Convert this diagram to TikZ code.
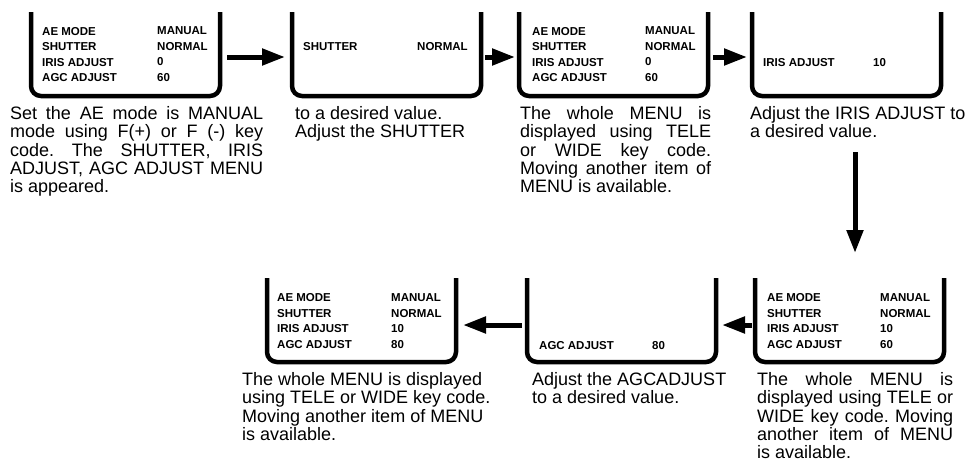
\documentclass[tikz,border=0pt]{standalone}
\usepackage{fontspec}
\setmainfont{Liberation Sans}
\usetikzlibrary{arrows.meta}
\newcommand\jline[2]{\makebox[#1][s]{#2}}
\frenchspacing
\begin{document}
\begin{tikzpicture}[x=1pt,y=-1pt,
  frame/.style={line width=4.5pt, rounded corners=10pt},
  area/.style={inner sep=0pt, outer sep=0pt, minimum width=189pt, minimum height=84pt},
  mtxt/.style={font=\fontsize{11.5}{15.5}\selectfont\bfseries, inner sep=0pt, anchor=north west, align=left},
  mone/.style={font=\fontsize{11.5}{15.5}\selectfont\bfseries, inner sep=0pt, anchor=west},
  captxt/.style={font=\fontsize{18}{18.4}\selectfont\frenchspacing, inner sep=0pt, anchor=north west, align=left},
  arr/.style={line width=5pt, -{Triangle[length=23pt,width=16pt]}}]
\useasboundingbox (0,0) rectangle (971,464);

% box areas
\node[area] (b1) at (125.5,54) {};
\node[area] (b2) at (386.5,54) {};
\node[area] (b3) at (613.5,54) {};
\node[area] (b4) at (846.5,54) {};
\node[area] (b5) at (361.5,320) {};
\node[area] (b6) at (621.5,320) {};
\node[area] (b7) at (849.5,320) {};

\foreach \b in {b1,b2,b3,b4,b5,b6,b7}
  \draw[frame] (\b.north west) -- (\b.south west) -- (\b.south east) -- (\b.north east);

% box contents
\node[mtxt] (b1l) at (42,26.8) {AE MODE\\SHUTTER\\IRIS ADJUST\\AGC ADJUST};
\node[mtxt] (b1v) at (157,26.8) {MANUAL\\NORMAL\\0\\60};
\node[mone] (b2l) at (303,47) {SHUTTER};
\node[mone] (b2v) at (417,47) {NORMAL};
\node[mtxt] (b3l) at (532,26.8) {AE MODE\\SHUTTER\\IRIS ADJUST\\AGC ADJUST};
\node[mtxt] (b3v) at (645,26.8) {MANUAL\\NORMAL\\0\\60};
\node[mone] (b4l) at (763,63) {IRIS ADJUST};
\node[mone] (b4v) at (873,63) {10};
\node[mtxt] (b5l) at (277,293.5) {AE MODE\\SHUTTER\\IRIS ADJUST\\AGC ADJUST};
\node[mtxt] (b5v) at (391,293.5) {MANUAL\\NORMAL\\10\\80};
\node[mone] (b6l) at (539,346) {AGC ADJUST};
\node[mone] (b6v) at (652,346) {80};
\node[mtxt] (b7l) at (767,293.5) {AE MODE\\SHUTTER\\IRIS ADJUST\\AGC ADJUST};
\node[mtxt] (b7v) at (880,293.5) {MANUAL\\NORMAL\\10\\60};

% captions
\node[captxt] (c1) at (10,106) {\jline{253pt}{Set the AE mode is MANUAL}\\
  \jline{253pt}{mode using F(+) or F (-) key}\\
  \jline{253pt}{code. The SHUTTER, IRIS}\\
  \jline{253pt}{ADJUST, AGC ADJUST MENU}\\
  is appeared.};
\node[captxt] (c2) at (295,106) {to a desired value.\\Adjust the SHUTTER};
\node[captxt] (c3) at (520,106) {\jline{191pt}{The whole MENU is}\\
  \jline{191pt}{displayed using TELE}\\
  \jline{191pt}{or WIDE key code.}\\
  \jline{191pt}{Moving another item of}\\
  MENU is available.};
\node[captxt] (c4) at (750,106) {Adjust the IRIS ADJUST to\\a desired value.};
\node[captxt] (c5) at (242,372) {The whole MENU is displayed\\using TELE or WIDE key code.\\Moving another item of MENU\\is available.};
\node[captxt] (c6) at (532,372) {Adjust the AGCADJUST\\to a desired value.};
\node[captxt] (c7) at (757,372) {\jline{196pt}{The whole MENU is}\\
  \jline{196pt}{displayed using TELE or}\\
  \jline{196pt}{WIDE key code. Moving}\\
  \jline{196pt}{another item of MENU}\\
  is available.};

% connectors
\draw[arr, shorten <=7pt, shorten >=7pt] ([yshift=-3pt]b1.east) -- ([yshift=-3pt]b2.west);
\draw[arr, shorten <=4pt, shorten >=4pt] ([yshift=-3pt]b2.east) -- ([yshift=-3pt]b3.west);
\draw[arr, shorten <=5pt, shorten >=5pt] ([yshift=-3pt]b3.east) -- ([yshift=-3pt]b4.west);
\coordinate (dtop) at (855,152);
\coordinate (dbot) at (855,253);
\draw[arr] (dtop) -- (dbot);
\draw[arr, shorten <=3pt, shorten >=6pt] ([yshift=-5pt]b7.west) -- ([yshift=-5pt]b6.east);
\draw[arr, shorten <=5pt, shorten >=7pt] ([yshift=-5pt]b6.west) -- ([yshift=-5pt]b5.east);
\end{tikzpicture}
\end{document}
